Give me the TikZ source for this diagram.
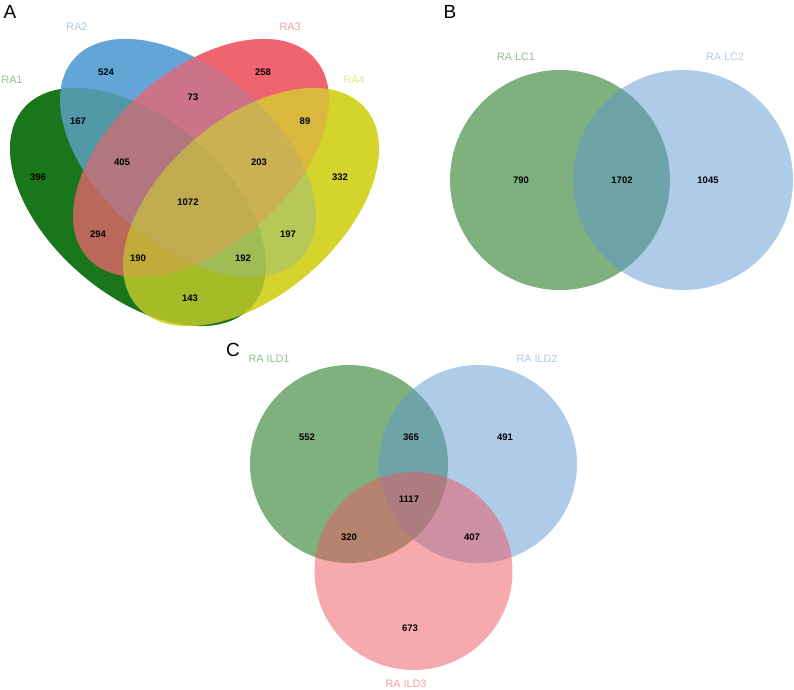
\documentclass[tikz,border=0pt]{standalone}
\usepackage{fontspec}
\setmainfont{Liberation Sans}
\usetikzlibrary{positioning}
\definecolor{QGreen}{RGB}{26,118,26}
\definecolor{QBlue}{RGB}{100,165,215}
\definecolor{QRed}{RGB}{240,100,112}
\definecolor{QYellow}{RGB}{212,212,45}
\definecolor{VGreen}{RGB}{0,100,0}
\definecolor{VBlue}{RGB}{93,151,209}
\definecolor{VRed}{RGB}{237,85,93}
\definecolor{TGreen}{RGB}{140,195,140}
\definecolor{TBlue}{RGB}{172,202,234}
\definecolor{TRed}{RGB}{245,155,162}
\definecolor{TYellow}{RGB}{228,228,140}

\begin{document}
\begin{tikzpicture}[x=1pt,y=-1pt,
  num/.style={font=\fontsize{9.5}{11}\selectfont\bfseries,inner sep=0pt},
  lab/.style={font=\fontsize{10.8}{12}\selectfont,inner sep=0pt},
  panel/.style={font=\fontsize{19}{22}\selectfont,inner sep=0pt},
  setB/.style={fill opacity=0.5}]
\useasboundingbox (0,0) rectangle (794,689);

% A: four ellipses, solid first, then half-transparent on top
\foreach \cx/\cy/\a/\col in {138/207/-40.8/QGreen,188/158/-40.8/QBlue,
                             201/158/40.8/QRed,251/207/40.8/QYellow}{%
  \fill[\col,rotate around={\a:(\cx,\cy)}] (\cx,\cy) ellipse [x radius=151pt,y radius=88pt];}
\foreach \cx/\cy/\a/\col in {138/207/-40.8/QGreen,188/158/-40.8/QBlue,
                             201/158/40.8/QRed,251/207/40.8/QYellow}{%
  \fill[\col,fill opacity=0.5,rotate around={\a:(\cx,\cy)}] (\cx,\cy) ellipse [x radius=151pt,y radius=88pt];}

\node[panel] (pA) at (10,12) {A};
\node[lab,text=TGreen] (lA1) at (12,80) {RA1};
\node[lab,text=TBlue] (lA2) at (77,27) {RA2};
\node[lab,text=TRed] (lA3) at (290,27) {RA3};
\node[lab,text=TYellow] (lA4) at (354,80) {RA4};
\foreach \x/\y/\n in {106/72/524,263/72/258,193/97/73,78/121/167,305/121/89,
                      122/162/405,259/162/203,38/177/396,340/177/332,188/202/1072,
                      98/234/294,288/234/197,138/258/190,243/258/192,190/298/143}{%
  \node[num] (a\n) at (\x,\y) {\n};}

% B: two circles
\fill[VGreen,setB] (560,180) circle [radius=110pt];
\fill[VBlue,setB] (683,180) circle [radius=110pt];
\node[panel] (pB) at (450,12) {B};
\node[lab,text=TGreen] (lB1) at (516,57) {RA LC1};
\node[lab,text=TBlue] (lB2) at (725,57) {RA LC2};
\node[num] (b790) at (521,180) {790};
\node[num] (b1702) at (622,180) {1702};
\node[num] (b1045) at (708,180) {1045};

% C: three circles
\fill[VGreen,setB] (349,464) circle [radius=99pt];
\fill[VBlue,setB] (478,464) circle [radius=99pt];
\fill[VRed,setB] (413.5,571) circle [radius=99pt];
\node[panel] (pC) at (233,350) {C};
\node[lab,text=TGreen] (lC1) at (269,359) {RA ILD1};
\node[lab,text=TBlue] (lC2) at (537,359) {RA ILD2};
\node[lab,text=TRed] (lC3) at (406,684) {RA ILD3};
\foreach \x/\y/\n in {307/437/552,411/437/365,505/437/491,409/499/1117,
                      349/537/320,472/537/407,410/628/673}{%
  \node[num] (c\n) at (\x,\y) {\n};}
\end{tikzpicture}
\end{document}
